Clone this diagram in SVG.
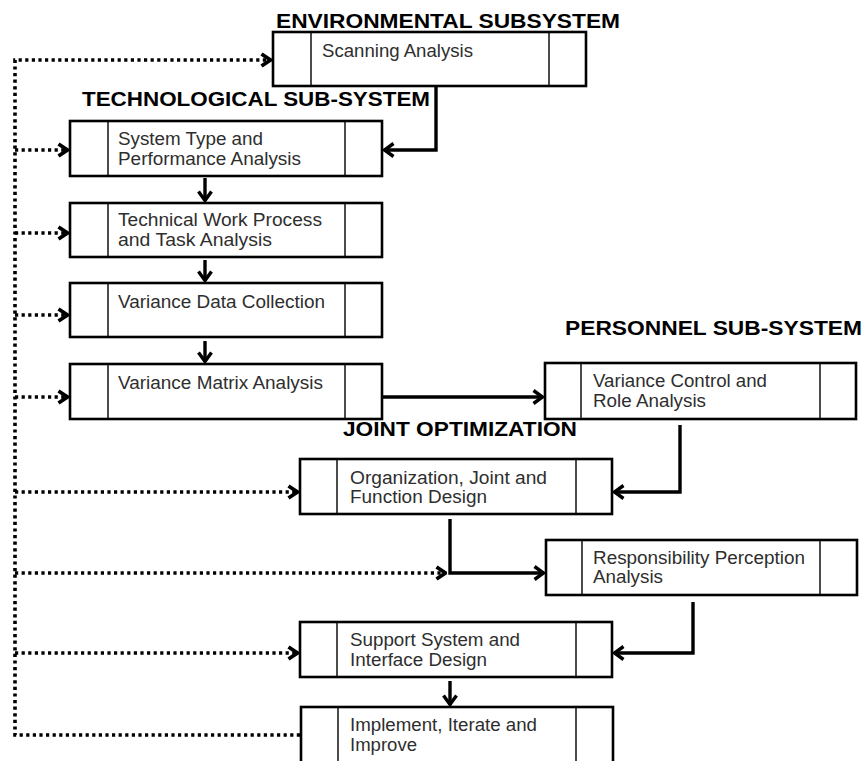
<svg xmlns="http://www.w3.org/2000/svg" width="866" height="761" viewBox="0 0 866 761">
<style>
  .box { fill: #fff; stroke: #000; stroke-width: 2.6; }
  .div { stroke: #000; stroke-width: 1.4; fill: none; }
  .t { font-family: "Liberation Sans", Arial, sans-serif; font-size: 17.5px; fill: #2e2e2e; }
  .h { font-family: "Liberation Sans", Arial, sans-serif; font-size: 20.5px; font-weight: bold; fill: #000; }
  .solid { fill: none; stroke: #000; stroke-width: 3.4; }
  .dot { fill: none; stroke: #000; stroke-width: 3.6; stroke-dasharray: 3.2 3.4; }
</style>
<defs>
  <marker id="ah" viewBox="0 0 12 16" refX="11" refY="8" markerWidth="12" markerHeight="16" orient="auto" markerUnits="userSpaceOnUse">
    <path d="M1.5,1.5 L10.5,8 L1.5,14.5" fill="none" stroke="#000" stroke-width="3.4" stroke-linejoin="miter"/>
  </marker>
  <marker id="ahd" viewBox="0 0 12 16" refX="11" refY="8" markerWidth="12" markerHeight="16" orient="auto" markerUnits="userSpaceOnUse">
    <path d="M1.5,2 L10.5,8 L1.5,14" fill="none" stroke="#000" stroke-width="3.8" stroke-linejoin="miter"/>
  </marker>
</defs>
<rect width="866" height="761" fill="#fff"/>

<!-- titles -->
<text class="h" x="276" y="28" textLength="344" lengthAdjust="spacingAndGlyphs">ENVIRONMENTAL SUBSYSTEM</text>
<text class="h" x="82" y="106" textLength="348" lengthAdjust="spacingAndGlyphs">TECHNOLOGICAL SUB-SYSTEM</text>
<text class="h" x="565" y="335" textLength="297" lengthAdjust="spacingAndGlyphs">PERSONNEL SUB-SYSTEM</text>

<!-- connectors -->
<g id="connectors">
  <!-- dotted feedback lines -->
  <path class="dot" d="M300,735 H15 V60 H271" marker-end="url(#ahd)"/>
  <path class="dot" d="M15,150 H68" marker-end="url(#ahd)"/>
  <path class="dot" d="M15,233 H68" marker-end="url(#ahd)"/>
  <path class="dot" d="M15,315 H68" marker-end="url(#ahd)"/>
  <path class="dot" d="M15,397 H68" marker-end="url(#ahd)"/>
  <path class="dot" d="M15,492 H298" marker-end="url(#ahd)"/>
  <path class="dot" d="M15,573 H446" marker-end="url(#ahd)"/>
  <path class="dot" d="M15,653 H298" marker-end="url(#ahd)"/>
  <!-- solid flow -->
  <path class="solid" d="M436,87 V150 H384" marker-end="url(#ah)"/>
  <path class="solid" d="M205,178 V201" marker-end="url(#ah)"/>
  <path class="solid" d="M205,260 V281" marker-end="url(#ah)"/>
  <path class="solid" d="M205,341 V362" marker-end="url(#ah)"/>
  <path class="solid" d="M383,397 H543" marker-end="url(#ah)"/>
  <path class="solid" d="M680,425 V492 H614" marker-end="url(#ah)"/>
  <path class="solid" d="M450,519 V573 H544" marker-end="url(#ah)"/>
  <path class="solid" d="M693,602 V653 H614" marker-end="url(#ah)"/>
  <path class="solid" d="M450,681 V705" marker-end="url(#ah)"/>
</g>

<g id="scanning">
  <rect class="box" x="273" y="32" width="313" height="54"/>
  <path class="div" d="M311,32 V86 M549,32 V86"/>
  <text class="t" x="322" y="57" textLength="151" lengthAdjust="spacingAndGlyphs">Scanning Analysis</text>
</g>

<g id="system-type">
  <rect class="box" x="70" y="121" width="312" height="55"/>
  <path class="div" d="M108,121 V176 M345,121 V176"/>
  <text class="t" x="118" y="145" textLength="145" lengthAdjust="spacingAndGlyphs">System Type and</text>
  <text class="t" x="118" y="165" textLength="183" lengthAdjust="spacingAndGlyphs">Performance Analysis</text>
</g>

<g id="technical-work">
  <rect class="box" x="70" y="203" width="312" height="54"/>
  <path class="div" d="M108,203 V257 M345,203 V257"/>
  <text class="t" x="118" y="226" textLength="204" lengthAdjust="spacingAndGlyphs">Technical Work Process</text>
  <text class="t" x="118" y="246" textLength="154" lengthAdjust="spacingAndGlyphs">and Task Analysis</text>
</g>

<g id="variance-data">
  <rect class="box" x="70" y="283" width="312" height="54"/>
  <path class="div" d="M108,283 V337 M345,283 V337"/>
  <text class="t" x="118" y="308" textLength="207" lengthAdjust="spacingAndGlyphs">Variance Data Collection</text>
</g>

<g id="variance-matrix">
  <rect class="box" x="70" y="364" width="312" height="55"/>
  <path class="div" d="M108,364 V419 M345,364 V419"/>
  <text class="t" x="118" y="389" textLength="205" lengthAdjust="spacingAndGlyphs">Variance Matrix Analysis</text>
</g>

<g id="variance-control">
  <rect class="box" x="545" y="363" width="311" height="56"/>
  <path class="div" d="M581,363 V419 M820,363 V419"/>
  <text class="t" x="593" y="387" textLength="174" lengthAdjust="spacingAndGlyphs">Variance Control and</text>
  <text class="t" x="593" y="407" textLength="113" lengthAdjust="spacingAndGlyphs">Role Analysis</text>
</g>

<text class="h" x="343" y="436" textLength="234" lengthAdjust="spacingAndGlyphs">JOINT OPTIMIZATION</text>

<g id="organization">
  <rect class="box" x="300" y="459" width="312" height="55"/>
  <path class="div" d="M337,459 V514 M576,459 V514"/>
  <text class="t" x="350" y="484" textLength="197" lengthAdjust="spacingAndGlyphs">Organization, Joint  and</text>
  <text class="t" x="350" y="503" textLength="137" lengthAdjust="spacingAndGlyphs">Function Design</text>
</g>

<g id="responsibility">
  <rect class="box" x="546" y="540" width="311" height="55"/>
  <path class="div" d="M582,540 V595 M820,540 V595"/>
  <text class="t" x="593" y="564" textLength="212" lengthAdjust="spacingAndGlyphs">Responsibility Perception</text>
  <text class="t" x="593" y="583" textLength="70" lengthAdjust="spacingAndGlyphs">Analysis</text>
</g>

<g id="support">
  <rect class="box" x="300" y="622" width="312" height="55"/>
  <path class="div" d="M337,622 V677 M576,622 V677"/>
  <text class="t" x="350" y="646" textLength="170" lengthAdjust="spacingAndGlyphs">Support System and</text>
  <text class="t" x="350" y="666" textLength="137" lengthAdjust="spacingAndGlyphs">Interface Design</text>
</g>

<g id="implement">
  <rect class="box" x="301" y="707" width="312" height="60"/>
  <path class="div" d="M338,707 V767 M576,707 V767"/>
  <text class="t" x="350" y="731" textLength="187" lengthAdjust="spacingAndGlyphs">Implement, Iterate and</text>
  <text class="t" x="350" y="751" textLength="67" lengthAdjust="spacingAndGlyphs">Improve</text>
</g>
</svg>
